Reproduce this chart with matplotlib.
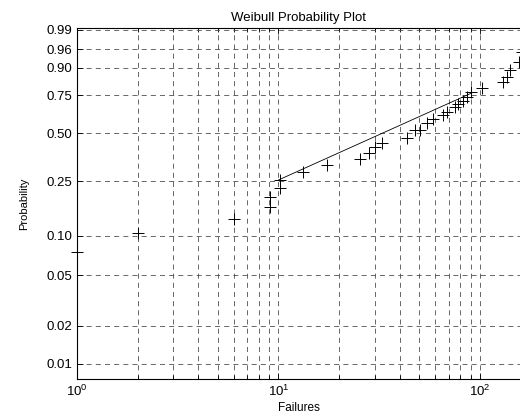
import matplotlib
matplotlib.use("Agg")
import matplotlib.pyplot as plt
import numpy as np

plt.rcParams['font.family'] = ['Liberation Sans', 'DejaVu Sans']

# failure times and plotting positions
failures = [1.0, 2.0, 6.0, 9.1, 9.1, 10.2, 10.2, 13.2, 17.4, 25.4, 28.1, 30.1,
            32.6, 43.4, 47.6, 50.4, 54.6, 58.5, 65.5, 68.4, 75.2, 77.8, 82.3,
            86.2, 90.2, 102.4, 130.0, 136.0, 141.0, 156.0, 161.0]
prob = [0.0754, 0.105, 0.134, 0.164, 0.193, 0.224, 0.255, 0.288, 0.321, 0.351,
        0.382, 0.416, 0.440, 0.470, 0.520, 0.520, 0.567, 0.593, 0.620, 0.640,
        0.674, 0.694, 0.714, 0.740, 0.771, 0.796, 0.830, 0.857, 0.890, 0.923,
        0.954]

# reference line
line_x = [10.0, 91.0]
line_p = [0.2545, 0.765]

ytick_vals = [0.01, 0.02, 0.05, 0.10, 0.25, 0.50, 0.75, 0.90, 0.96, 0.99]
ytick_labels = ['0.01', '0.02', '0.05', '0.10', '0.25', '0.50', '0.75',
                '0.90', '0.96', '0.99']


# Weibull probability scale: log(-log(1-p))
def fwd(p):
    p = np.clip(np.asarray(p, dtype=float), 1e-9, 1 - 1e-12)
    return np.log(-np.log(1 - p))


def inv(w):
    return 1 - np.exp(-np.exp(np.asarray(w, dtype=float)))


fig = plt.figure(figsize=(5.2, 4.2), dpi=100)
ax = fig.add_axes([0.148, 0.0976, 0.852, 0.836])

ax.set_xscale('log')
ax.set_yscale('function', functions=(fwd, inv))

ax.plot(failures, prob, '+', color='black', markersize=8, mew=0.7, clip_on=False)
ax.plot(line_x, line_p, '-', color='black', lw=0.6)

ax.set_xlim(1, 158)
ax.set_ylim(0.0076, 0.9916)
ax.set_yticks(ytick_vals)
ax.set_yticklabels(ytick_labels)
ax.yaxis.set_minor_locator(plt.NullLocator())

ax.grid(True, which='major', axis='y', color='0.3', lw=0.6, linestyle=(0, (6, 5)))
ax.grid(True, which='both', axis='x', color='0.3', lw=0.6, linestyle=(0, (6, 5)))

ax.tick_params(which='both', direction='in', top=True, right=False,
               labelsize=9.5, length=4, width=0.6)
ax.tick_params(which='minor', length=3)
ax.spines['right'].set_visible(False)
for s in ['left', 'bottom', 'top']:
    ax.spines[s].set_linewidth(0.8)

ax.set_title('Weibull Probability Plot', fontsize=9.5, pad=5)
ax.set_xlabel('Failures', fontsize=8.5, labelpad=2)
ax.set_ylabel('Probability', fontsize=8, labelpad=12)

fig.savefig('out.png', dpi=100)
